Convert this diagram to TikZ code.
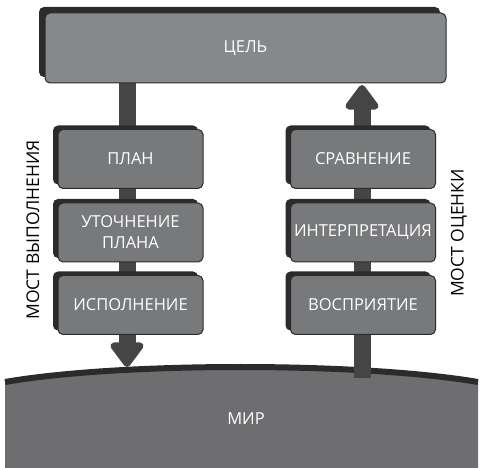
\documentclass[tikz,border=0pt]{standalone}
\usepackage{fontspec}
\setmainfont{Open Sans}
\usetikzlibrary{arrows.meta}
\usetikzlibrary{shadows}

\definecolor{goalgray}{HTML}{87888B}
\definecolor{stagegray}{HTML}{78797B}
\definecolor{worldgray}{HTML}{6E6E70}
\definecolor{edgegray}{HTML}{2B2B2B}
\definecolor{shaftgray}{HTML}{454546}

\begin{document}
\begin{tikzpicture}[x = 1pt, y = -1pt]
	\tikzstyle{boxStyle} = [draw = edgegray, line width = 1pt, rounded corners = 5pt, text = white, font = \fontsize{16.5}{21}\selectfont, align = center, inner sep = 0pt]
	\tikzstyle{goalStyle} = [boxStyle, fill = goalgray, minimum width = 401pt, minimum height = 70pt, general shadow = {shadow xshift = -6pt, shadow yshift = 6pt, fill = edgegray}]
	\tikzstyle{stageStyle} = [boxStyle, fill = stagegray, minimum width = 145pt, minimum height = 59pt, general shadow = {shadow xshift = -5pt, shadow yshift = 4pt, fill = edgegray}]
	\tikzstyle{shaftStyle} = [line width = 17pt, shaftgray, -{Triangle[width = 38pt, length = 27pt, round]}]
	\tikzstyle{bridgeStyle} = [font = \fontsize{17.5}{20}\selectfont, text = black]
	\useasboundingbox (0, 0) rectangle (483, 468);
	\coordinate (down) at (127, 367);
	\coordinate (up) at (362, 378);
	\fill[worldgray] (5, 468) -- (5, 382) .. controls (120, 362) and (360, 362) .. (478, 382) -- (478, 468) -- cycle;
	\draw[edgegray, line width = 6pt] (5, 382) .. controls (120, 362) and (360, 362) .. (478, 382);
	\node[text = white, font = \fontsize{16.5}{20}\selectfont] (world) at (246, 419) {МИР};
	\draw[shaftStyle] (127, 83) -- (down);
	\draw[shaftStyle] (up) -- (362, 85);
	\node[goalStyle] (goal) at (245.5, 48) {ЦЕЛЬ};
	\node[stageStyle] (plan) at (130.5, 159) {ПЛАН};
	\node[stageStyle] (specify) at (130.5, 232.5) {УТОЧНЕНИЕ\\ПЛАНА};
	\node[stageStyle] (perform) at (130.5, 305) {ИСПОЛНЕНИЕ};
	\node[stageStyle] (compare) at (363, 159) {СРАВНЕНИЕ};
	\node[stageStyle] (interpret) at (363, 232.5) {ИНТЕРПРЕТАЦИЯ};
	\node[stageStyle] (perceive) at (363, 305) {ВОСПРИЯТИЕ};
	\node[bridgeStyle, rotate = 90] (execution) at (33, 230) {МОСТ ВЫПОЛНЕНИЯ};
	\node[bridgeStyle, rotate = 90] (evaluation) at (459, 233) {МОСТ ОЦЕНКИ};
\end{tikzpicture}
\end{document}
